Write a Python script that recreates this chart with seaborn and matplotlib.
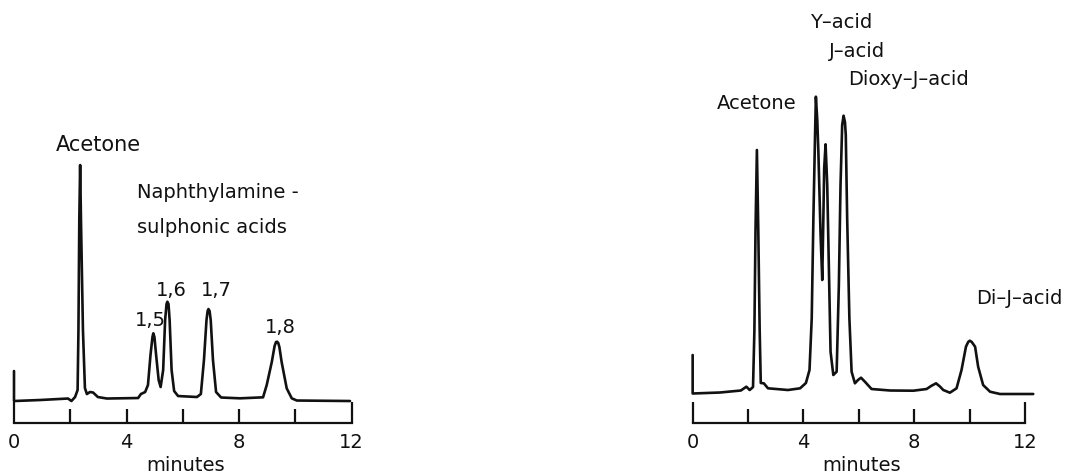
import pandas as pd
import matplotlib
matplotlib.use("Agg")
import matplotlib.pyplot as plt
import seaborn as sns

# left chromatogram (naphthylamine sulphonic acids)
left_minutes = [0.0, 0.0, 0.92, 1.92, 2.04, 2.17, 2.26, 2.29, 2.32, 2.35, 2.38, 2.45,
                2.52, 2.59, 2.70, 2.81, 2.98, 3.30, 4.41, 4.51, 4.66, 4.76, 4.85,
                4.92, 4.95, 4.99, 5.05, 5.14, 5.21, 5.30, 5.37, 5.42, 5.45, 5.49,
                5.53, 5.60, 5.69, 5.83, 6.50, 6.64, 6.75, 6.84, 6.88, 6.91, 6.95,
                6.99, 7.07, 7.18, 7.36, 8.03, 8.85, 8.98, 9.16, 9.26, 9.31, 9.35,
                9.39, 9.43, 9.51, 9.69, 9.87, 10.05, 11.94]
left_signal = [30, 0, 1, 2.5, 0, 4, 11, 71, 181, 236, 181, 71,
               13, 7, 9, 8.5, 4, 2.5, 3, 7, 9, 16, 46,
               64, 67.7, 64, 46, 21, 14, 31, 81, 97, 99.3, 97,
               81, 31, 10, 5, 4, 7, 41, 81, 90, 92, 90,
               81, 41, 9, 3.5, 2.7, 3.7, 16, 39, 55, 59, 59.3,
               58, 54, 39, 12.7, 2.7, 0.5, 0]

# right chromatogram (Y-, J-, dioxy-J- and di-J-acid)
right_minutes = [0.0, 0.0, 0.99, 1.74, 1.94, 2.06, 2.18, 2.23, 2.27, 2.32, 2.37, 2.42,
                 2.46, 2.57, 2.72, 3.44, 3.88, 4.09, 4.22, 4.30, 4.36, 4.42, 4.45,
                 4.50, 4.54, 4.62, 4.68, 4.72, 4.75, 4.80, 4.86, 4.92, 4.98, 5.08,
                 5.20, 5.28, 5.34, 5.40, 5.45, 5.50, 5.53, 5.58, 5.66, 5.74, 5.86,
                 5.97, 6.08, 6.22, 6.46, 7.13, 7.97, 8.45, 8.61, 8.79, 8.93, 9.05,
                 9.29, 9.53, 9.71, 9.87, 9.95, 10.01, 10.08, 10.20, 10.31, 10.49,
                 10.74, 11.10, 12.30]
right_signal = [39, 0.5, 1.5, 3.5, 7.3, 4, 7, 64, 164, 244, 164, 64,
                11, 10.7, 5.7, 4, 5.7, 11, 24, 75.7, 175.7, 259, 297.3,
                274, 242.3, 159, 114, 175.7, 225.7, 249.7, 209, 125.7, 42.3, 19,
                22.3, 109, 209, 269, 278.3, 272, 259, 175.7, 75.7, 22.3, 10.7,
                14, 16.3, 12.3, 5, 3.5, 3.3, 5, 8, 10.7, 7.5, 4,
                1.3, 5.7, 24, 47.3, 52, 53.3, 52, 47.3, 27.3, 9,
                2.3, 0, 0]

tick_major = [0, 4, 8, 12]
tick_minor = [2, 6, 10]

left_labels = [("Acetone", 3.00, 256.5, "center", 15),
               ("Naphthylamine -", 4.37, 208.5, "left", 14),
               ("sulphonic acids", 4.37, 174, "left", 14),
               ("1,5", 4.83, 81, "center", 14),
               ("1,6", 5.60, 110.5, "center", 14),
               ("1,7", 7.20, 110.5, "center", 14),
               ("1,8", 9.45, 73.5, "center", 14)]
right_labels = [("Y\u2013acid", 5.35, 371.5, "center", 14),
                ("J\u2013acid", 5.95, 342.3, "center", 14),
                ("Dioxy\u2013J\u2013acid", 7.81, 314, "center", 14),
                ("Acetone", 2.31, 290.5, "center", 14),
                ("Di\u2013J\u2013acid", 11.78, 95.5, "center", 14)]

INK = "#111111"


def draw_chromatogram(ax, minutes, signal, ylim, labels):
    df = pd.DataFrame({"minutes": minutes, "signal": signal})
    sns.lineplot(data=df, x="minutes", y="signal", sort=False, estimator=None,
                 ax=ax, color=INK, lw=1.9, solid_joinstyle="round")
    ax.set_xlim(-0.4, 12.6)
    ax.set_ylim(*ylim)
    for side in ["left", "right", "top"]:
        ax.spines[side].set_visible(False)
    ax.spines["bottom"].set_bounds(0, 12)
    ax.spines["bottom"].set_linewidth(1.6)
    ax.spines["bottom"].set_color(INK)
    ax.set_xticks(tick_major)
    ax.set_xticks(tick_minor, minor=True)
    ax.set_xticklabels([str(t) for t in tick_major])
    ax.set_yticks([])
    ax.tick_params(axis="x", which="both", bottom=True, direction="in", width=1.6,
                   length=10, pad=7, labelsize=14, color=INK, labelcolor=INK)
    ticks = ax.xaxis.get_major_ticks()
    ticks[0].tick1line.set_markersize(15)
    ticks[-1].tick1line.set_markersize(15)
    ax.set_xlabel("minutes", fontsize=14, color=INK, labelpad=3)
    ax.set_ylabel("")
    for text, x, y, ha, size in labels:
        ax.text(x, y, text, ha=ha, va="center", fontsize=size, color=INK)


sns.set_theme(style="white")
plt.rcParams["font.family"] = ["DejaVu Sans"]

fig = plt.figure(figsize=(10.71, 4.76), dpi=100)
ax_left = fig.add_axes([0.00256, 0.1113, 0.3416, 0.8676])
ax_right = fig.add_axes([0.6364, 0.1107, 0.3361, 0.8788])
ax_left.patch.set_alpha(0)
ax_right.patch.set_alpha(0)

draw_chromatogram(ax_left, left_minutes, left_signal, (-22, 391), left_labels)
draw_chromatogram(ax_right, right_minutes, right_signal, (-29.3, 389), right_labels)

fig.savefig("out.png", dpi=100, facecolor="white")
